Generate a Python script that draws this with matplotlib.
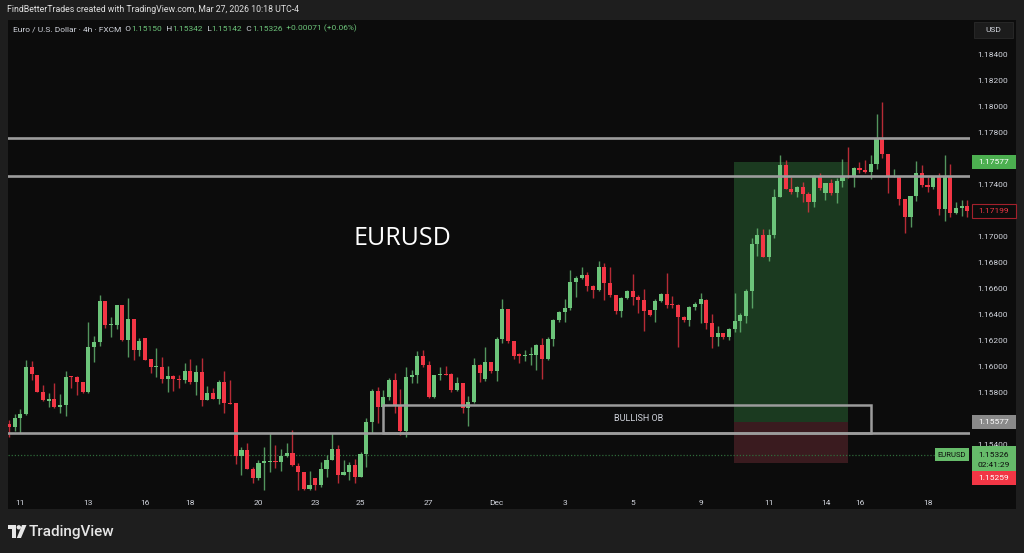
import matplotlib
matplotlib.use("Agg")
import matplotlib.pyplot as plt
import matplotlib.transforms as mtransforms
from matplotlib.patches import Rectangle, Polygon, Circle
import numpy as np

# EURUSD 4h candles (Nov 10 - Dec 19)
opens = [1.15559, 1.15541, 1.15605, 1.15638, 1.15997, 1.15938, 1.15810, 1.15741, 1.15751, 1.15690,
         1.15708, 1.15926, 1.15921, 1.15882, 1.15805, 1.16156, 1.16195, 1.16505, 1.16320, 1.16326,
         1.16474, 1.16205, 1.16369, 1.16131, 1.16220, 1.16059, 1.15997, 1.16003, 1.15905, 1.15928,
         1.15910, 1.15900, 1.15969, 1.15885, 1.15959, 1.15746, 1.15797, 1.15754, 1.15882, 1.15726,
         1.15720, 1.15315, 1.15362, 1.15215, 1.15144, 1.15264, 1.15267, 1.15277, 1.15267, 1.15315,
         1.15341, 1.15241, 1.15195, 1.15059, 1.15144, 1.15090, 1.15213, 1.15285, 1.15372, 1.15169,
         1.15190, 1.15246, 1.15156, 1.15331, 1.15574, 1.15815, 1.15690, 1.15767, 1.15900, 1.15708,
         1.15510, 1.15921, 1.15938, 1.16085, 1.16015, 1.15767, 1.15936, 1.15946, 1.15946, 1.15823,
         1.15879, 1.15682, 1.15733, 1.16015, 1.15905, 1.16041, 1.15972, 1.16215, 1.16444, 1.16200,
         1.16097, 1.16085, 1.16092, 1.16092, 1.16169, 1.16062, 1.16215, 1.16362, 1.16426, 1.16451,
         1.16656, 1.16682, 1.16705, 1.16626, 1.16592, 1.16772, 1.16644, 1.16554, 1.16433, 1.16528,
         1.16585, 1.16541, 1.16515, 1.16438, 1.16438, 1.16510, 1.16559, 1.16485, 1.16477, 1.16387,
         1.16362, 1.16464, 1.16485, 1.16515, 1.16341, 1.16233, 1.16259, 1.16233, 1.16290, 1.16356,
         1.16395, 1.16584, 1.16943, 1.17015, 1.16849, 1.17015, 1.17310, 1.17551, 1.17372, 1.17343,
         1.17384, 1.17328, 1.17272, 1.17470, 1.17341, 1.17413, 1.17341, 1.17433, 1.17470, 1.17459,
         1.17528, 1.17515, 1.17503, 1.17562, 1.17759, 1.17639, 1.17459, 1.17470, 1.17290, 1.17157,
         1.17315, 1.17490, 1.17400, 1.17382, 1.17459, 1.17213, 1.17464, 1.17182, 1.17221, 1.17239]
highs = [1.15592, 1.15638, 1.15674, 1.16054, 1.16046, 1.15940, 1.15862, 1.15797, 1.15874, 1.15792,
         1.15969, 1.15931, 1.15931, 1.15887, 1.16344, 1.16238, 1.16554, 1.16505, 1.16382, 1.16474,
         1.16474, 1.16531, 1.16369, 1.16226, 1.16220, 1.16059, 1.16144, 1.16074, 1.16008, 1.15938,
         1.15938, 1.16028, 1.16059, 1.16015, 1.16067, 1.15856, 1.15836, 1.15900, 1.15969, 1.15900,
         1.15726, 1.15387, 1.15413, 1.15233, 1.15285, 1.15387, 1.15490, 1.15400, 1.15369, 1.15413,
         1.15515, 1.15259, 1.15195, 1.15200, 1.15144, 1.15272, 1.15323, 1.15490, 1.15400, 1.15285,
         1.15272, 1.15290, 1.15349, 1.15610, 1.15828, 1.15849, 1.15823, 1.15913, 1.15951, 1.15828,
         1.15997, 1.15977, 1.16123, 1.16131, 1.16049, 1.15938, 1.16003, 1.16008, 1.15951, 1.15921,
         1.15879, 1.15777, 1.16067, 1.16023, 1.16151, 1.16041, 1.16228, 1.16521, 1.16444, 1.16200,
         1.16105, 1.16131, 1.16156, 1.16174, 1.16221, 1.16233, 1.16367, 1.16433, 1.16521, 1.16746,
         1.16700, 1.16772, 1.16731, 1.16631, 1.16818, 1.16803, 1.16767, 1.16554, 1.16536, 1.16592,
         1.16715, 1.16554, 1.16597, 1.16438, 1.16521, 1.16567, 1.16721, 1.16546, 1.16485, 1.16392,
         1.16469, 1.16503, 1.16572, 1.16521, 1.16408, 1.16315, 1.16264, 1.16297, 1.16572, 1.16418,
         1.16597, 1.16990, 1.17072, 1.17059, 1.17059, 1.17366, 1.17631, 1.17592, 1.17459, 1.17392,
         1.17425, 1.17348, 1.17477, 1.17495, 1.17418, 1.17444, 1.17451, 1.17598, 1.17690, 1.17541,
         1.17580, 1.17593, 1.17631, 1.17946, 1.18041, 1.17639, 1.17521, 1.17470, 1.17290, 1.17315,
         1.17585, 1.17554, 1.17459, 1.17470, 1.17490, 1.17631, 1.17562, 1.17272, 1.17285, 1.17285]
lows = [1.15464, 1.15510, 1.15490, 1.15631, 1.15900, 1.15805, 1.15741, 1.15695, 1.15682, 1.15644,
        1.15623, 1.15836, 1.15785, 1.15797, 1.15803, 1.16041, 1.16162, 1.16302, 1.16228, 1.16292,
        1.16200, 1.16079, 1.16054, 1.16087, 1.16054, 1.15951, 1.15926, 1.15879, 1.15810, 1.15818,
        1.15836, 1.15874, 1.15869, 1.15785, 1.15703, 1.15746, 1.15751, 1.15715, 1.15649, 1.15715,
        1.15251, 1.15169, 1.15215, 1.15105, 1.15131, 1.15054, 1.15190, 1.15220, 1.15203, 1.15310,
        1.15238, 1.15054, 1.15054, 1.15054, 1.15054, 1.15079, 1.15156, 1.15285, 1.15105, 1.15169,
        1.15131, 1.15110, 1.15156, 1.15233, 1.15490, 1.15572, 1.15682, 1.15746, 1.15649, 1.15477,
        1.15464, 1.15879, 1.15874, 1.15997, 1.15759, 1.15759, 1.15900, 1.15936, 1.15810, 1.15818,
        1.15649, 1.15546, 1.15720, 1.15887, 1.15895, 1.15956, 1.15895, 1.16182, 1.16182, 1.16059,
        1.16033, 1.16049, 1.16015, 1.15977, 1.15905, 1.16054, 1.16162, 1.16349, 1.16349, 1.16438,
        1.16541, 1.16674, 1.16585, 1.16528, 1.16587, 1.16515, 1.16541, 1.16408, 1.16387, 1.16521,
        1.16477, 1.16413, 1.16277, 1.16392, 1.16349, 1.16503, 1.16451, 1.16451, 1.16156, 1.16349,
        1.16318, 1.16438, 1.16336, 1.16290, 1.16144, 1.16162, 1.16213, 1.16208, 1.16272, 1.16272,
        1.16336, 1.16456, 1.16854, 1.16849, 1.16818, 1.16990, 1.17305, 1.17366, 1.17328, 1.17310,
        1.17272, 1.17195, 1.17234, 1.17362, 1.17285, 1.17323, 1.17264, 1.17387, 1.17451, 1.17382,
        1.17490, 1.17495, 1.17444, 1.17521, 1.17605, 1.17341, 1.17459, 1.17246, 1.17028, 1.17080,
        1.17280, 1.17382, 1.17349, 1.17367, 1.17169, 1.17126, 1.17151, 1.17177, 1.17162, 1.17157]
closes = [1.15541, 1.15605, 1.15638, 1.15997, 1.15944, 1.15810, 1.15746, 1.15751, 1.15695, 1.15708,
          1.15926, 1.15921, 1.15887, 1.15805, 1.16156, 1.16195, 1.16505, 1.16320, 1.16331, 1.16474,
          1.16205, 1.16369, 1.16131, 1.16200, 1.16054, 1.15997, 1.16008, 1.15905, 1.15928, 1.15905,
          1.15900, 1.15969, 1.15885, 1.15959, 1.15746, 1.15797, 1.15754, 1.15882, 1.15720, 1.15718,
          1.15315, 1.15362, 1.15215, 1.15144, 1.15264, 1.15274, 1.15277, 1.15267, 1.15315, 1.15341,
          1.15246, 1.15195, 1.15059, 1.15090, 1.15090, 1.15213, 1.15285, 1.15372, 1.15169, 1.15190,
          1.15246, 1.15156, 1.15331, 1.15574, 1.15815, 1.15690, 1.15767, 1.15900, 1.15708, 1.15510,
          1.15921, 1.15938, 1.16085, 1.16015, 1.15767, 1.15938, 1.15944, 1.15936, 1.15823, 1.15879,
          1.15682, 1.15733, 1.16015, 1.15956, 1.16041, 1.15972, 1.16213, 1.16444, 1.16200, 1.16085,
          1.16085, 1.16092, 1.16100, 1.16169, 1.16062, 1.16215, 1.16362, 1.16426, 1.16451, 1.16656,
          1.16682, 1.16705, 1.16626, 1.16592, 1.16772, 1.16644, 1.16554, 1.16433, 1.16528, 1.16585,
          1.16541, 1.16515, 1.16433, 1.16400, 1.16510, 1.16559, 1.16477, 1.16477, 1.16382, 1.16362,
          1.16464, 1.16485, 1.16521, 1.16341, 1.16233, 1.16259, 1.16228, 1.16290, 1.16356, 1.16397,
          1.16584, 1.16943, 1.17015, 1.16849, 1.17015, 1.17310, 1.17551, 1.17372, 1.17343, 1.17384,
          1.17328, 1.17272, 1.17470, 1.17375, 1.17413, 1.17341, 1.17433, 1.17470, 1.17459, 1.17528,
          1.17515, 1.17503, 1.17562, 1.17759, 1.17639, 1.17464, 1.17470, 1.17290, 1.17157, 1.17315,
          1.17490, 1.17400, 1.17382, 1.17459, 1.17213, 1.17464, 1.17182, 1.17221, 1.17239, 1.17199]

date_pos = [2, 14, 24, 32, 44, 54, 62, 74, 86, 98, 110, 122, 134, 144, 150, 162]
date_labels = ['11', '13', '16', '18', '20', '23', '25', '27', 'Dec', '3', '5', '9', '11', '14', '16', '18']
price_ticks = [1.154, 1.158, 1.160, 1.162, 1.164, 1.166, 1.168, 1.170, 1.174, 1.178, 1.180, 1.182, 1.184]

# drawings
levels = [1.15495, 1.17469, 1.17765]
ob_low, ob_high = 1.15495, 1.15711
ob_start, ob_end = 65.96, 152.0
entry, target, stop = 1.15577, 1.17577, 1.15259
pos_start, pos_end = 127.87, 147.97
last_price = 1.15326
last_bar = 1.17199

green = '#6cc47a'
red = '#f23645'
txt = '#d1d4dc'

plt.rcParams['font.family'] = ['Roboto', 'DejaVu Sans']

W, H = 1024, 553
fig = plt.figure(figsize=(W / 100, H / 100), dpi=100, facecolor='#1e1e1e')
# pixel coordinates, origin top-left
pix = mtransforms.Affine2D().scale(1 / W, -1 / H).translate(0, 1) + fig.transFigure

fig.patches.append(Rectangle((8, 20), 1008, 489, transform=pix, facecolor='#0c0c0c', edgecolor='none', zorder=-10))

ax = fig.add_axes([8 / W, 1 - 492 / H, 962 / W, 472 / H])
ax.set_facecolor('#0c0c0c')
ax.set_xlim(-0.176, 169.49)
ax.set_ylim(1.15038, 1.18669)
for s in ax.spines.values():
    s.set_visible(False)

o = np.array(opens)
h = np.array(highs)
l = np.array(lows)
c = np.array(closes)
idx = np.arange(len(o))
up = c >= o
cols = np.where(up, green, red)

# long position box
ax.add_patch(Rectangle((pos_start, entry), pos_end - pos_start, target - entry,
                       facecolor='#1b3a20', edgecolor='none', zorder=1))
ax.add_patch(Rectangle((pos_start, stop), pos_end - pos_start, entry - stop,
                       facecolor='#3a1b1f', edgecolor='none', zorder=1))

ax.vlines(idx, l, h, colors=cols, lw=1.0, alpha=0.75, zorder=3)
ax.bar(idx, np.maximum(np.abs(c - o), 0.00008), bottom=np.minimum(o, c), width=0.72,
       color=cols, linewidth=0, zorder=4)

for lv in levels:
    ax.axhline(lv, color='#9c9c9c', lw=1.9, zorder=5)
ax.add_patch(Rectangle((ob_start, ob_low), ob_end - ob_start, ob_high - ob_low,
                       facecolor='none', edgecolor='#9c9c9c', lw=1.8, zorder=5))
ax.text((ob_start + ob_end) / 2 + 2, (ob_low + ob_high) / 2, 'BULLISH OB', color=txt,
        fontsize=6.5, ha='center', va='center', zorder=6)

ax.axhline(last_price, xmin=0, xmax=0.9636, color='#2f6b3a', lw=0.9, ls=(0, (1, 1.5)), zorder=2)

ax.text(69.3, 1.16985, 'EURUSD', color='white', fontsize=18, ha='center', va='center',
        family=['Open Sans', 'DejaVu Sans'])

# axes ticks
ax.yaxis.tick_right()
ax.set_yticks(price_ticks)
ax.set_yticklabels(['%.5f' % p for p in price_ticks])
ax.tick_params(axis='y', length=0, pad=5.5, labelsize=6, labelcolor=txt)
ax.set_xticks(date_pos)
ax.set_xticklabels(date_labels)
ax.tick_params(axis='x', length=0, pad=6, labelsize=6, labelcolor=txt)

# price tags on the scale
trans = mtransforms.blended_transform_factory(ax.transAxes, ax.transData)
ppx = (1.18669 - 1.15038) / 472


def tag(y, label, fc, tc, ec='none', up_px=7, down_px=7):
    ax.add_patch(Rectangle((1.0021, y - down_px * ppx), 0.0457, (up_px + down_px) * ppx,
                           transform=trans, facecolor=fc, edgecolor=ec, lw=0.8, clip_on=False, zorder=6))
    ax.text(1.0249, y, label, transform=trans, color=tc, fontsize=6, ha='center', va='center',
            clip_on=False, zorder=7)


tag(target, '%.5f' % target, '#4caf50', 'white')
tag(last_bar, '%.5f' % last_bar, '#0c0c0c', red, ec='#a3202c')
tag(entry, '%.5f' % entry, '#8a8a8a', 'white')
tag(last_price, '%.5f' % last_price, '#66bb6a', '#0c0c0c', up_px=9, down_px=16)
ax.text(1.0249, last_price - 10 * ppx, '02:41:29', transform=trans, color='#0c0c0c', fontsize=6,
        ha='center', va='center', clip_on=False, zorder=7)
ax.add_patch(Rectangle((1.0021, last_price - 30 * ppx), 0.0457, 14 * ppx, transform=trans,
                       facecolor=red, edgecolor='none', clip_on=False, zorder=6))
ax.text(1.0249, last_price - 23 * ppx, '%.5f' % stop, transform=trans, color='white', fontsize=6,
        ha='center', va='center', clip_on=False, zorder=7)
# EURUSD symbol label on the price line
ax.add_patch(Rectangle((0.9636, last_price - 6.5 * ppx), 0.0353, 13 * ppx, transform=trans,
                       facecolor='#66bb6a', edgecolor='none', clip_on=False, zorder=6))
ax.text(0.9812, last_price, 'EURUSD', transform=trans, color='#0c0c0c', fontsize=5.5,
        ha='center', va='center', clip_on=False, zorder=7)

# header texts
fig.text(7, 10, 'FindBetterTrades created with TradingView.com, Mar 27, 2026 10:18 UTC-4',
         transform=pix, color='#e0e0e0', fontsize=6.3, va='center', ha='left')
prev = fig.text(13, 29, 'Euro / U.S. Dollar · 4h · FXCM', transform=pix, color=txt,
                fontsize=6, va='center', ha='left')
parts = [('  O', txt), ('1.15150', green), ('  H', txt), ('1.15342', green), ('  L', txt),
         ('1.15142', green), ('  C', txt), ('1.15326', green), ('  +0.00071 (+0.06%)', green)]
for s, col in parts:
    prev = ax.annotate(s, xy=(1, 0), xycoords=prev, color=col, fontsize=6, va='bottom', ha='left',
                       annotation_clip=False)

# USD unit box
fig.patches.append(Rectangle((974, 22), 39, 16, transform=pix, facecolor='#1c1c1c',
                             edgecolor='#2a2a2a', lw=0.6, zorder=3))
fig.text(993.5, 30, 'USD', transform=pix, color=txt, fontsize=6, ha='center', va='center')

# TradingView logo
fig.patches.append(Polygon([(8, 525), (15.5, 525), (15.5, 538), (11.5, 538), (11.5, 529), (8, 529)],
                           closed=True, transform=pix, facecolor='#e6e6e6', edgecolor='none'))
fig.patches.append(Circle((18.8, 527.3), 2.2, transform=pix, facecolor='#e6e6e6', edgecolor='none'))
fig.patches.append(Polygon([(22, 525), (26.5, 525), (21, 538), (16.8, 538)], closed=True,
                           transform=pix, facecolor='#e6e6e6', edgecolor='none'))
fig.text(29, 532, 'TradingView', transform=pix, color='#e6e6e6', fontsize=11, weight='medium',
         ha='left', va='center')

fig.savefig('out.png', dpi=100, facecolor=fig.get_facecolor())
